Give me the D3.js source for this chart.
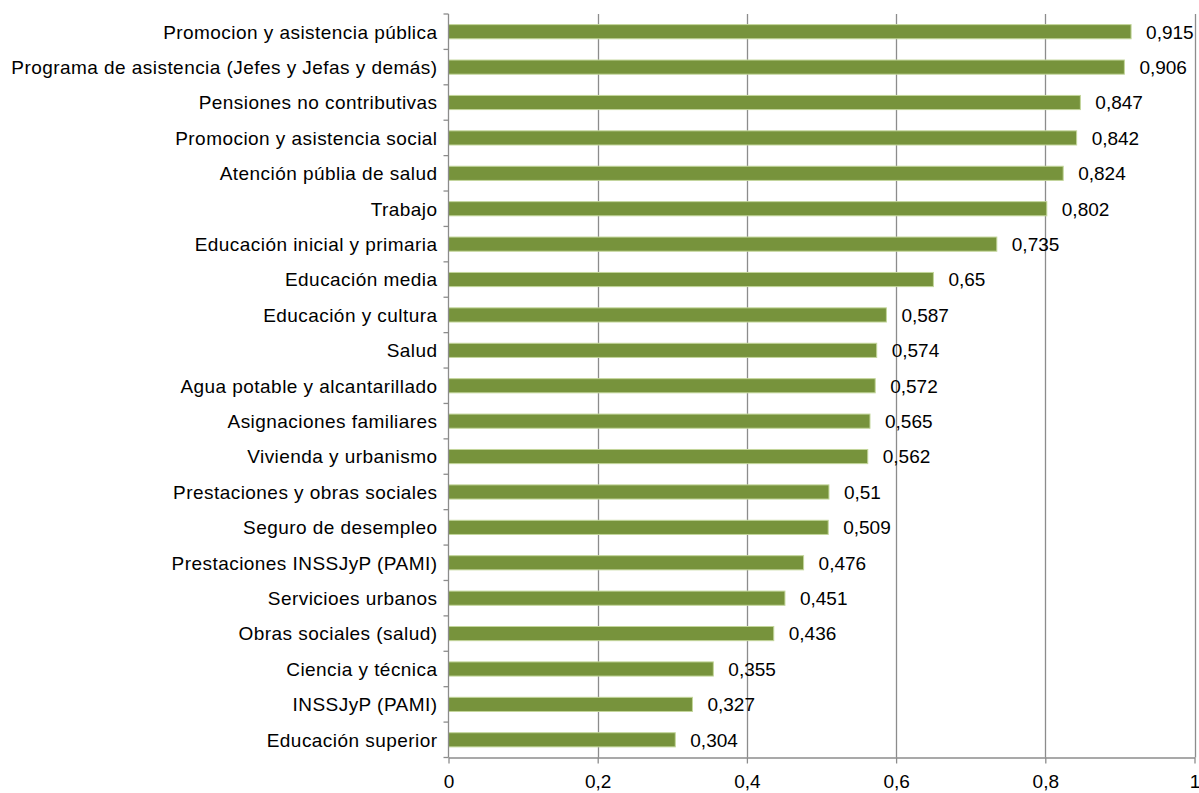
<!DOCTYPE html>
<html><head><meta charset="utf-8">
<script src="https://cdn.jsdelivr.net/npm/d3@7"></script>
<style>body{margin:0;background:#fff;}svg{display:block;font-family:"Liberation Sans",Arial,sans-serif;}</style>
</head><body><svg id="c" width="1199" height="793"></svg>
<script>
const categories = ["Promocion y asistencia pública","Programa de asistencia (Jefes y Jefas y demás)","Pensiones no contributivas","Promocion y asistencia social","Atención públia de salud","Trabajo","Educación inicial y primaria","Educación media","Educación y cultura","Salud","Agua potable y alcantarillado","Asignaciones familiares","Vivienda y urbanismo","Prestaciones y obras sociales","Seguro de desempleo","Prestaciones INSSJyP (PAMI)","Servicioes urbanos","Obras sociales (salud)","Ciencia y técnica","INSSJyP (PAMI)","Educación superior"];
const values = [0.915,0.906,0.847,0.842,0.824,0.802,0.735,0.65,0.587,0.574,0.572,0.565,0.562,0.51,0.509,0.476,0.451,0.436,0.355,0.327,0.304];
const valueLabels = ["0,915","0,906","0,847","0,842","0,824","0,802","0,735","0,65","0,587","0,574","0,572","0,565","0,562","0,51","0,509","0,476","0,451","0,436","0,355","0,327","0,304"];
const xTicks = [0,0.2,0.4,0.6,0.8,1];
const xTickLabels = ["0","0,2","0,4","0,6","0,8","1"];

const svg = d3.select("#c");
const L=448.5, R=1194.5, T=14, B=757.5;
const x = d3.scaleLinear().domain([0,1]).range([L,R]);
const y = d3.scaleBand().domain(categories).range([T,B]).paddingInner(0.6).paddingOuter(0.3);

// gridlines
svg.append("g").selectAll("line").data(xTicks.filter(d=>d>0)).join("line")
  .attr("x1",d=>Math.round(x(d))+0.5).attr("x2",d=>Math.round(x(d))+0.5)
  .attr("y1",T).attr("y2",B).attr("stroke","#8c8c8c").attr("stroke-width",1.3);

// bars
svg.append("g").selectAll("rect").data(values).join("rect")
  .attr("x",x(0)).attr("y",(d,i)=>y(categories[i]))
  .attr("width",d=>x(d)-x(0)).attr("height",y.bandwidth())
  .attr("fill","#77933C").attr("stroke","#C3D69B").attr("stroke-width",1);

// value labels
svg.append("g").selectAll("text").data(values).join("text")
  .attr("x",d=>x(d)+15).attr("y",(d,i)=>y(categories[i])+y.bandwidth()/2)
  .attr("dy","0.36em").attr("font-size",19).attr("fill","#000")
  .text((d,i)=>valueLabels[i]);

// y axis
const ya = d3.axisLeft(y).tickSize(5).tickSizeOuter(5).tickPadding(6);
const yg = svg.append("g").attr("transform",`translate(${L},0)`).call(ya);
yg.selectAll(".tick line").remove();
const bounds = d3.range(categories.length+1).map(i=>T+i*(B-T)/categories.length);
yg.append("g").selectAll("line").data(bounds).join("line")
  .attr("x1",-5).attr("x2",0).attr("y1",d=>d).attr("y2",d=>d).attr("stroke","#8c8c8c").attr("stroke-width",1.3);
yg.select(".domain").attr("stroke","#8c8c8c").attr("stroke-width",1.3).attr("d",`M0,${T}V${B}`);
yg.selectAll(".tick text").attr("font-size",19).attr("fill","#000").attr("font-family","'Liberation Sans',Arial,sans-serif").attr("x",-11).attr("letter-spacing","0.45px").attr("dy","0.36em");

// x axis
const xa = d3.axisBottom(x).tickValues(xTicks).tickFormat((d,i)=>xTickLabels[i]).tickSize(6).tickSizeOuter(0).tickPadding(11);
const xg = svg.append("g").attr("transform",`translate(0,${B})`).call(xa);
xg.select(".domain").attr("stroke","#8c8c8c").attr("stroke-width",1.3);
xg.selectAll(".tick line").attr("stroke","#8c8c8c").attr("stroke-width",1.3);
xg.selectAll(".tick text").attr("font-size",19).attr("fill","#000").attr("font-family","'Liberation Sans',Arial,sans-serif");
</script></body></html>
